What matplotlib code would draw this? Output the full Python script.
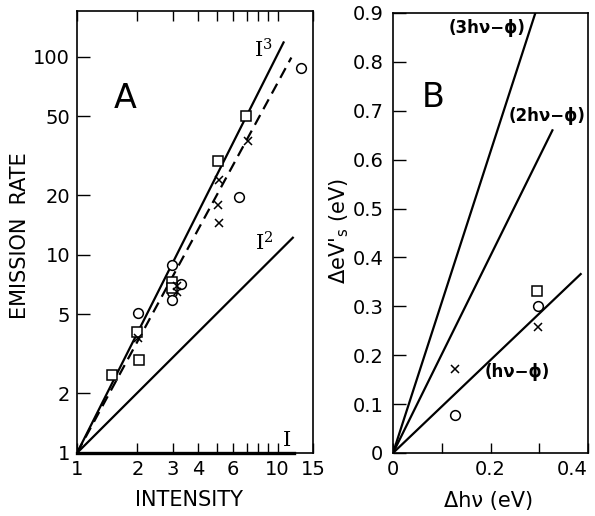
import matplotlib
matplotlib.use("Agg")
import matplotlib.pyplot as plt
from matplotlib.ticker import FixedLocator, NullFormatter

plt.rcParams['font.family'] = ['DejaVu Sans']

# ---------------- Panel A data ----------------
circ_A_x = [13.0, 6.4, 2.97, 2.02, 2.97, 2.97, 3.3]
circ_A_y = [88.0, 19.6, 8.9, 5.1, 6.5, 5.9, 7.1]
sq_A_x = [6.95, 5.05, 2.97, 2.97, 1.98, 2.03, 1.5]
sq_A_y = [50.0, 29.6, 7.3, 6.8, 4.08, 2.95, 2.48]
x_A_x = [7.1, 5.1, 5.05, 5.1, 3.15, 3.15, 2.02]
x_A_y = [37.5, 23.9, 17.9, 14.5, 7.0, 6.5, 3.8]

lineI3_x = [1, 10.7]
lineI3_y = [1, 118]
lineI2_x = [1, 11.9]
lineI2_y = [1, 12.2]
lineI_x = [1, 12]
lineI_y = [1, 1]
dash_x = [1, 11.7]
dash_y = [1, 99]

xticksA = [1, 2, 3, 4, 6, 10, 15]
xminorA = [5, 7, 8, 9]
yticksA = [1, 2, 5, 10, 20, 50, 100]

# ---------------- Panel B data ----------------
circ_B_x = [0.128, 0.298]
circ_B_y = [0.078, 0.300]
sq_B_x = [0.296]
sq_B_y = [0.332]
x_B_x = [0.127, 0.298]
x_B_y = [0.172, 0.258]

line3_x = [0, 0.292]
line3_y = [0, 0.9]
line2_x = [0, 0.327]
line2_y = [0, 0.66]
line1_x = [0, 0.385]
line1_y = [0, 0.366]

W, H = 595, 516
fig = plt.figure(figsize=(W / 100, H / 100), dpi=100)

def box(l, t, r, b):
    return [l / W, 1 - b / H, (r - l) / W, (b - t) / H]

axA = fig.add_axes(box(77, 11, 313, 453))
axB = fig.add_axes(box(393, 13, 588, 453))

lw = 1.6
mk = dict(color='black', linestyle='none')

# Panel A
axA.set_xscale('log')
axA.set_yscale('log')
axA.plot(lineI3_x, lineI3_y, color='black', lw=lw)
axA.plot(lineI2_x, lineI2_y, color='black', lw=lw)
axA.plot(lineI_x, lineI_y, color='black', lw=lw * 1.5, clip_on=False)
axA.plot(dash_x, dash_y, color='black', lw=lw, dashes=(5, 3))
axA.plot(circ_A_x, circ_A_y, marker='o', markersize=7, markerfacecolor='white',
         markeredgewidth=1.1, **mk)
axA.plot(sq_A_x, sq_A_y, marker='s', markersize=7.5, markerfacecolor='white',
         markeredgewidth=1.1, **mk)
axA.plot(x_A_x, x_A_y, marker='x', markersize=6, markeredgewidth=1.1, **mk)
axA.set_xlim(1, 15)
axA.set_ylim(1, 170)
axA.xaxis.set_major_locator(FixedLocator(xticksA))
axA.xaxis.set_minor_locator(FixedLocator(xminorA))
axA.set_xticklabels([str(v) for v in xticksA])
axA.xaxis.set_minor_formatter(NullFormatter())
axA.yaxis.set_major_locator(FixedLocator(yticksA))
axA.yaxis.set_minor_locator(FixedLocator([]))
axA.set_yticklabels([str(v) for v in yticksA])
axA.tick_params(axis='x', which='both', direction='in', top=True, bottom=True,
                length=7, width=1, labelsize=14, pad=5)
axA.tick_params(axis='y', which='both', direction='in', left=True, right=False,
                length=9.5, width=1, labelsize=14, pad=5)
for s in axA.spines.values():
    s.set_linewidth(1.2)

axA.text(0.203, 0.803, 'A', transform=axA.transAxes, fontsize=24,
         ha='center', va='center')
axA.text(8.5, 108, 'I$^{3}$', fontsize=15, family='DejaVu Serif',
         ha='center', va='center', math_fontfamily='dejavuserif')
axA.text(8.6, 11.5, 'I$^{2}$', fontsize=15, family='DejaVu Serif',
         ha='center', va='center', math_fontfamily='dejavuserif')
axA.text(11.1, 1.15, 'I', fontsize=15, family='DejaVu Serif',
         ha='center', va='center')

# Panel B
axB.plot(line3_x, line3_y, color='black', lw=lw)
axB.plot(line2_x, line2_y, color='black', lw=lw)
axB.plot(line1_x, line1_y, color='black', lw=lw)
axB.plot(circ_B_x, circ_B_y, marker='o', markersize=7, markerfacecolor='white',
         markeredgewidth=1.1, **mk)
axB.plot(sq_B_x, sq_B_y, marker='s', markersize=7.5, markerfacecolor='white',
         markeredgewidth=1.1, **mk)
axB.plot(x_B_x, x_B_y, marker='x', markersize=6, markeredgewidth=1.1, **mk)
axB.set_xlim(0, 0.4)
axB.set_ylim(0, 0.9)
axB.set_xticks([0, 0.2, 0.4])
axB.set_xticklabels(['0', '0.2', '0.4'])
axB.xaxis.set_minor_locator(FixedLocator([0.1, 0.3]))
axB.set_yticks([0, 0.1, 0.2, 0.3, 0.4, 0.5, 0.6, 0.7, 0.8, 0.9])
axB.set_yticklabels(['0', '0.1', '0.2', '0.3', '0.4', '0.5', '0.6', '0.7', '0.8', '0.9'])
axB.tick_params(axis='x', which='both', direction='in', top=False, bottom=True,
                length=7, width=1, labelsize=14, pad=5)
axB.tick_params(axis='y', which='both', direction='in', left=True, right=False,
                length=9.5, width=1, labelsize=14, pad=7)
labs = axB.get_xticklabels()
labs[-1].set_ha('right')
for s in axB.spines.values():
    s.set_linewidth(1.2)

axB.text(0.205, 0.809, 'B', transform=axB.transAxes, fontsize=24,
         ha='center', va='center')
axB.text(0.192, 0.869, '(3hν−ϕ)', fontsize=12, fontweight='bold', ha='center', va='center')
axB.text(0.316, 0.689, '(2hν−ϕ)', fontsize=12, fontweight='bold', ha='center', va='center')
axB.text(0.255, 0.166, '(hν−ϕ)', fontsize=12, fontweight='bold', ha='center', va='center')

# Axis labels placed at measured pixel positions
fig.text(189 / W, 1 - 500 / H, 'INTENSITY', fontsize=15, ha='center', va='center')
fig.text(20 / W, 1 - 236 / H, 'EMISSION  RATE', fontsize=15, ha='center',
         va='center', rotation=90)
fig.text(489 / W, 1 - 501 / H, 'Δhν (eV)', fontsize=15, ha='center', va='center')
fig.text(339 / W, 1 - 231 / H, r"ΔeV$\mathregular{'_{s}}$ (eV)",
         fontsize=15, ha='center', va='center', rotation=90)

fig.savefig('out.png', dpi=100)
